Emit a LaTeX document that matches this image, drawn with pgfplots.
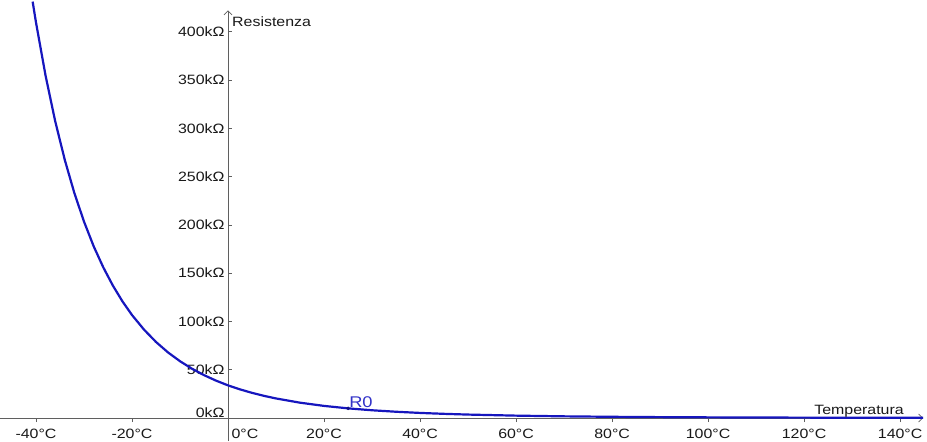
\documentclass[border=0pt]{standalone}
\usepackage{fontspec}
\setmainfont{Liberation Sans}[FakeStretch=1.18]
\usepackage{pgfplots}
\usepackage{pgfplotstable}
\pgfplotsset{compat=1.18}
\usetikzlibrary{arrows.meta}

\definecolor{curveblue}{RGB}{22,22,190}
\definecolor{rzeroblue}{RGB}{50,50,200}
\definecolor{axisgray}{RGB}{95,95,95}
\definecolor{labelgray}{RGB}{25,25,25}

% NTC resistance (kOhm) against temperature (degC)
\pgfplotstableread{
T      R
-40.7  431.0
-40    409.4
-38    354.2
-36    307.2
-34    267.1
-32    232.7
-30    203.3
-28    177.9
-26    156.1
-24    137.2
-22    120.8
-20    106.6
-17.5   91.5
-15     78.7
-12.5   67.9
-10     58.8
-7.5    51.0
-5      44.4
-2.5    38.7
0       33.8
2.5     29.65
5       26.05
7.5     22.94
10      20.25
15      15.87
20      12.55
25      10.0
30       8.03
35       6.49
40       5.28
45       4.33
50       3.57
60       2.47
70       1.74
80       1.26
90       0.92
100      0.69
110      0.52
120      0.40
130      0.31
140      0.25
144.8    0.22
}\ntcdata

\begin{document}
\begin{tikzpicture}
\begin{axis}[
    name=ax,
    scale only axis,
    width=923pt, height=430.6pt,
    xmin=-47.5, xmax=144.8,
    ymin=-23.8, ymax=422,
    axis lines=middle,
    axis line style={draw=axisgray, line width=0.8pt,
        -{Straight Barb[length=4pt, width=8pt]}},
    clip=false,
    hide obscured x ticks=false,
    hide obscured y ticks=false,
    font=\fontsize{13.5}{16}\selectfont,
    tick style={draw=axisgray, line width=0.6pt},
    major tick length=4pt,
    xtick align=outside,
    ytick align=inside,
    xtick={-40,-20,20,40,60,80,100,120,140},
    xticklabels={-40°C,-20°C,20°C,40°C,60°C,80°C,100°C,120°C,140°C},
    ytick={50,100,...,400},
    yticklabels={50kΩ,100kΩ,150kΩ,200kΩ,250kΩ,300kΩ,350kΩ,400kΩ},
    extra x ticks={0},
    extra x tick labels={0°C},
    extra x tick style={xticklabel style={anchor=north west}},
    extra y ticks={0},
    extra y tick labels={0kΩ},
    extra y tick style={yticklabel style={anchor=south east, yshift=-3pt}},
    xticklabel style={text=labelgray, yshift=-4pt},
    yticklabel style={text=labelgray},
    xlabel={Temperatura},
    ylabel={Resistenza},
    every axis x label/.style={at={(axis cs:141,0)}, anchor=south east,
        inner sep=1pt, text=labelgray},
    every axis y label/.style={at={(axis cs:0,418)}, anchor=north west,
        inner sep=2pt, xshift=2pt, text=labelgray},
]
\addplot[curveblue, line width=2.2pt, line join=round] table[x=T, y=R] {\ntcdata};
\addplot[only marks, mark=*, mark size=1.6pt, color=curveblue!70!black]
    coordinates {(25,10)}
    node[anchor=south west, inner sep=1pt, text=rzeroblue,
         font=\fontsize{15.5}{18}\selectfont] {R0};
\coordinate (bbsw) at (axis cs:-47.5,-23.8);
\coordinate (bbne) at (axis cs:145.6,432.7);
\end{axis}
\pgfresetboundingbox
\path (bbsw) rectangle (bbne);
\end{tikzpicture}
\end{document}
